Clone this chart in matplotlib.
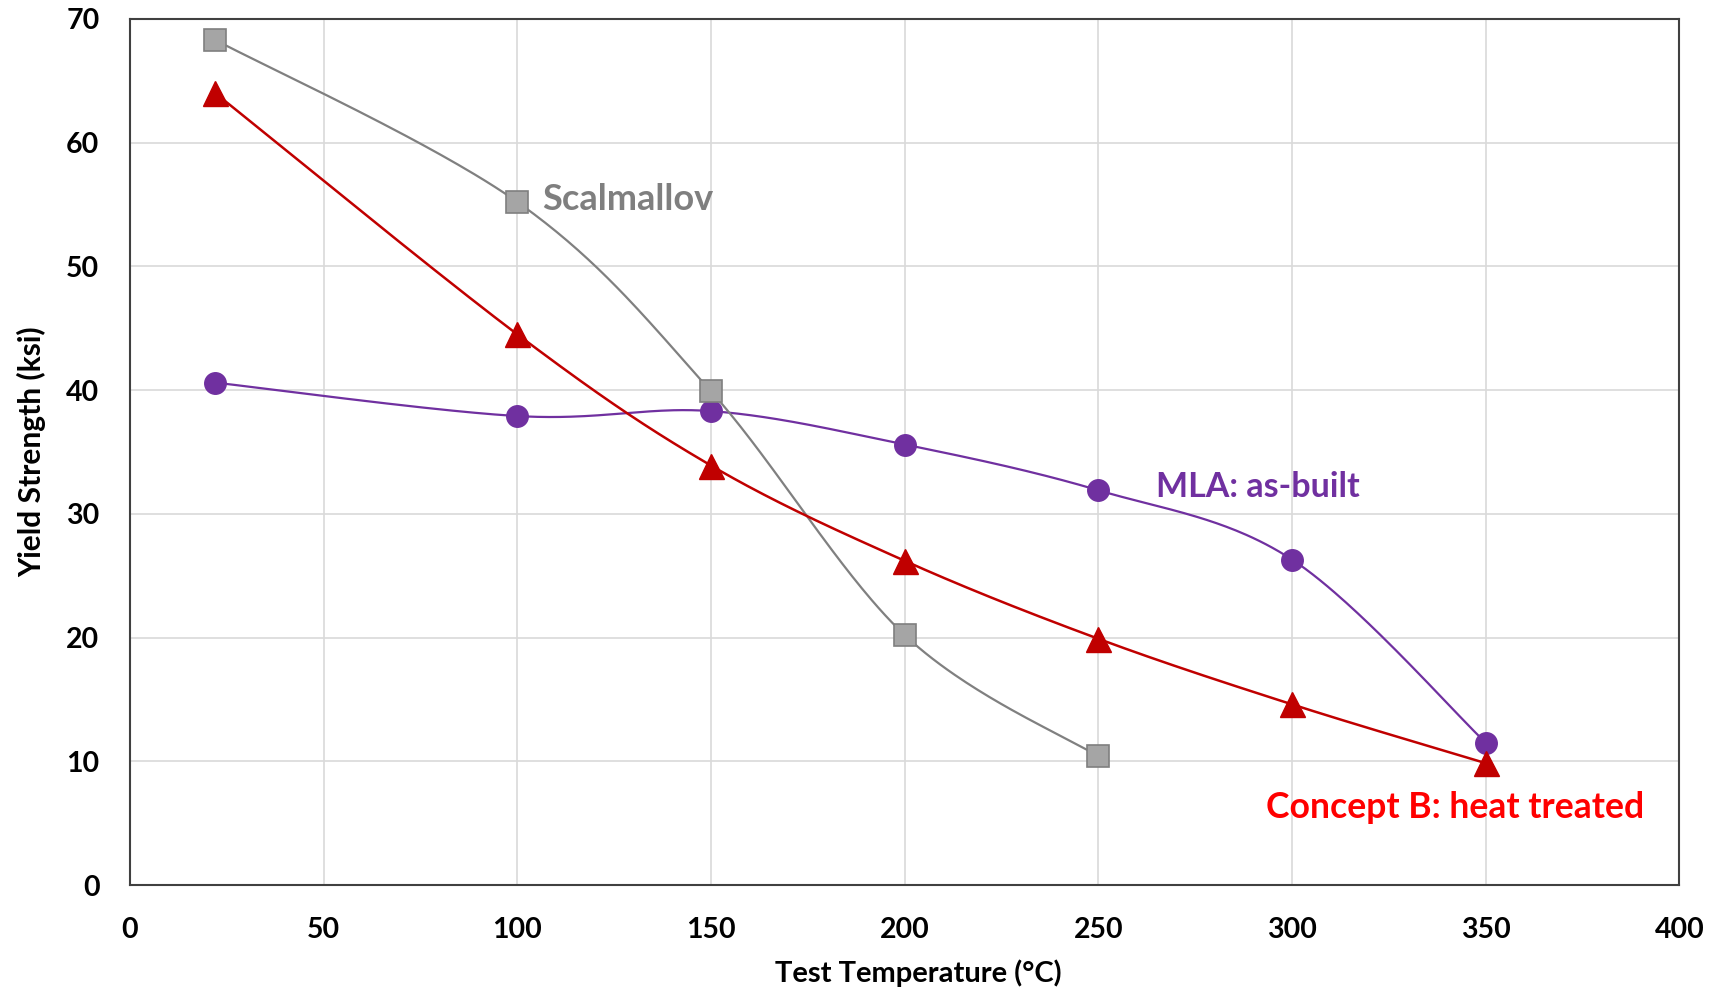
import numpy as np
import matplotlib.pyplot as plt

plt.rcParams['font.family'] = ['Lato', 'DejaVu Sans']
plt.rcParams['font.weight'] = 'bold'

# yield strength (ksi) vs test temperature (C)
temp_scalmallov = [22, 100, 150, 200, 250]
ys_scalmallov = [68.3, 55.2, 39.9, 20.2, 10.4]

temp_concept_b = [22, 100, 150, 200, 250, 300, 350]
ys_concept_b = [64.0, 44.5, 33.9, 26.2, 19.9, 14.6, 9.85]

temp_mla = [22, 100, 150, 200, 250, 300, 350]
ys_mla = [40.6, 37.9, 38.3, 35.6, 31.9, 26.3, 11.5]

x_ticks = [0, 50, 100, 150, 200, 250, 300, 350, 400]
y_ticks = [0, 10, 20, 30, 40, 50, 60, 70]


def smooth(x, y, n=60):
    # spreadsheet-style smoothed line: cubic bezier through each point,
    # control points from the neighbouring points (tension 1/6)
    p = np.column_stack([x, y]).astype(float)
    ext = np.vstack([p[0], p, p[-1]])
    t = np.linspace(0, 1, n)[:, None]
    out = []
    for i in range(len(p) - 1):
        p0, p1 = ext[i + 1], ext[i + 2]
        c1 = p0 + (ext[i + 2] - ext[i]) / 6
        c2 = p1 - (ext[i + 3] - ext[i + 1]) / 6
        seg = ((1 - t) ** 3) * p0 + 3 * ((1 - t) ** 2) * t * c1 \
            + 3 * (1 - t) * t ** 2 * c2 + t ** 3 * p1
        out.append(seg)
    out = np.vstack(out)
    return out[:, 0], out[:, 1]


fig = plt.figure(figsize=(17.19, 9.9), dpi=100)
ax = fig.add_axes([0.0756, 0.106, 0.9014, 0.875])

purple = '#7030A0'
red = '#C00000'
grey_line = '#808080'

sx, sy = smooth(temp_mla, ys_mla)
ax.plot(sx, sy, color=purple, lw=1.6, zorder=3)
ax.plot(temp_mla, ys_mla, 'o', ms=15.5, color=purple, mec=purple, zorder=4)

sx, sy = smooth(temp_scalmallov, ys_scalmallov)
ax.plot(sx, sy, color=grey_line, lw=1.6, zorder=5)
ax.plot(temp_scalmallov, ys_scalmallov, 's', ms=15.5, color='#A5A5A5',
        mec='#7F7F7F', mew=1.2, zorder=6)

sx, sy = smooth(temp_concept_b, ys_concept_b)
ax.plot(sx, sy, color=red, lw=1.8, zorder=7)
ax.plot(temp_concept_b, ys_concept_b, '^', ms=18, color=red, mec=red, zorder=8)

ax.text(106.5, 55.4, 'Scalmallov', color='#7F7F7F', fontsize=26,
        fontweight='bold', va='center', ha='left')
ax.text(264.8, 32.2, 'MLA: as-built', color=purple, fontsize=24.5,
        fontweight='bold', va='center', ha='left')
ax.text(293.3, 6.3, 'Concept B: heat treated', color='#FF0000', fontsize=25.6,
        fontweight='bold', va='center', ha='left')

ax.set_xlim(0, 400)
ax.set_ylim(0, 70)
ax.set_xticks(x_ticks)
ax.set_yticks(y_ticks)
ax.tick_params(axis='both', length=0, labelsize=20.5)
ax.tick_params(axis='x', pad=23)
ax.tick_params(axis='y', pad=22)
for lab in ax.get_xticklabels() + ax.get_yticklabels():
    lab.set_fontweight('bold')

ax.grid(True, color='#D9D9D9', lw=1.2)
ax.set_axisbelow(True)
for s in ax.spines.values():
    s.set_color('#404040')
    s.set_linewidth(1.5)

ax.set_xlabel('Test Temperature (°C)', fontsize=21, fontweight='bold',
              labelpad=12, x=0.509)
ax.set_ylabel('Yield Strength (ksi)', fontsize=21.5, fontweight='bold', labelpad=14)

fig.savefig('out.png', dpi=100)
